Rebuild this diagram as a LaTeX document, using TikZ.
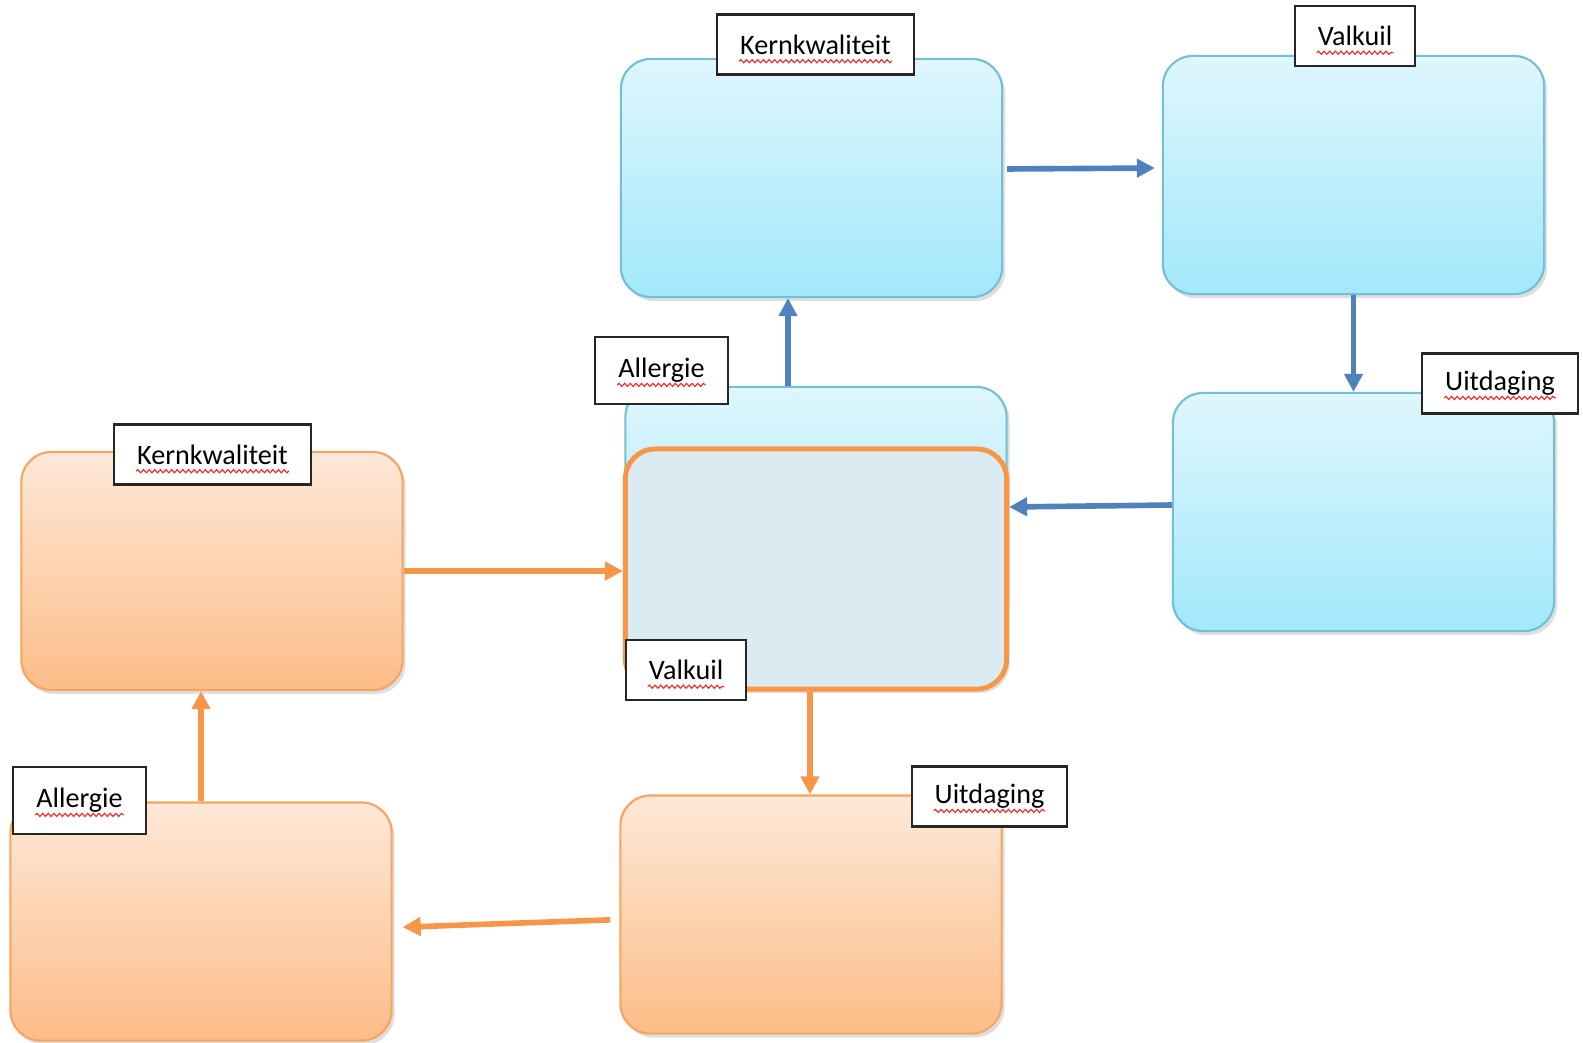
\documentclass[tikz,border=0pt]{standalone}
\usepackage{fontspec}
\setmainfont{Carlito}
\usetikzlibrary{arrows.meta,shadows,decorations.pathmorphing}

\definecolor{blueTop}{HTML}{DFF6FD}
\definecolor{blueBot}{HTML}{A2E8FB}
\definecolor{blueLine}{HTML}{72BFD6}
\definecolor{orangeTop}{HTML}{FEE8D8}
\definecolor{orangeBot}{HTML}{FCBD88}
\definecolor{orangeLine}{HTML}{F6A45E}
\definecolor{arrowBlue}{HTML}{4F81BD}
\definecolor{arrowOrange}{HTML}{F79646}
\definecolor{mixFill}{HTML}{DAECF2}

\tikzset{
  boxbase/.style={rectangle, rounded corners=0.3cm, minimum width=3.81cm, minimum height=2.38cm,
    drop shadow={shadow xshift=0.03cm, shadow yshift=-0.04cm, opacity=0.25, fill=gray}},
  bluebox/.style={boxbase, draw=blueLine, line width=0.6pt, top color=blueTop, bottom color=blueBot},
  orangebox/.style={boxbase, draw=orangeLine, line width=0.6pt, top color=orangeTop, bottom color=orangeBot},
  mixbox/.style={boxbase, draw=arrowOrange, line width=1.4pt, fill=mixFill, minimum height=2.40cm},
  tag/.style={draw=black!85, line width=0.6pt, fill=white, inner xsep=0.23cm, inner ysep=0.05cm,
    minimum height=0.6cm, font=\fontsize{8}{9}\selectfont},
  spell/.style={draw=red!90, line width=0.3pt,
    decorate, decoration={snake, segment length=1.6pt, amplitude=0.45pt}},
  bluearrow/.style={draw=arrowBlue, line width=1.6pt, -{Triangle[length=0.18cm,width=0.18cm]}},
  orangearrow/.style={draw=arrowOrange, line width=1.6pt, -{Triangle[length=0.18cm,width=0.18cm]}}
}

\begin{document}
\begin{tikzpicture}[x=0.01cm, y=-0.01cm]
  \useasboundingbox (0,0) rectangle (1583,1042);

  % Blue cycle
  \node[bluebox] (bk) at (811.5,178) {};
  \node[bluebox] (vk) at (1353.5,175) {};
  \node[bluebox] (bu) at (1363.5,512) {};
  \node[bluebox] (ba) at (816,506) {};

  % Orange cycle
  \node[orangebox] (kl) at (212,571) {};
  \node[orangebox] (al) at (201,921.5) {};
  \node[orangebox] (ub) at (811,914.5) {};
  \node[mixbox] (co) at (816,569) {};

  % Blue arrows
  \draw[bluearrow, shorten <=0.04cm, shorten >=0.07cm] ([yshift=0.09cm]bk.east) -- ([yshift=0.1cm]bk.east -| vk.west);
  \draw[bluearrow] (vk.south) -- (vk.south |- bu.north);
  \draw[bluearrow] ([yshift=0.07cm]bu.west) -- ([yshift=0.05cm]bu.west -| co.east);
  \draw[bluearrow] ([xshift=-0.28cm]ba.north) -- ([xshift=-0.28cm]ba.north |- bk.south);

  % Orange arrows
  \draw[orangearrow] (kl.east) -- (kl.east -| co.west);
  \draw[orangearrow] ([xshift=-0.06cm]co.south) -- ([xshift=-0.06cm]co.south |- ub.north);
  \draw[orangearrow, shorten <=0.09cm, shorten >=0.1cm] ([yshift=-0.05cm]ub.west) -- ([yshift=-0.06cm]al.east);
  \draw[orangearrow] (al.north) -- (al.north |- kl.south);

  % Labels
  \node[tag] (tbk) at (815.5,44.5) {Kernkwaliteit};
  \node[tag] (tvk) at (1355,36) {Valkuil};
  \node[tag, minimum height=0.67cm] (tba) at (661.5,370.5) {Allergie};
  \node[tag] (tbu) at (1500,383.5) {Uitdaging};
  \node[tag] (tkl) at (212.5,454.5) {Kernkwaliteit};
  \node[tag] (tco) at (686,670) {Valkuil};
  \node[tag, minimum height=0.67cm] (tal) at (79.5,800.5) {Allergie};
  \node[tag] (tub) at (989.5,796.5) {Uitdaging};

  % Spelling waves
  \foreach \t in {tbk,tvk,tba,tbu,tkl,tco,tal,tub}
    \draw[spell] ([xshift=0.23cm,yshift=-2pt]\t.base west) -- ([xshift=-0.23cm,yshift=-2pt]\t.base east);
\end{tikzpicture}
\end{document}
